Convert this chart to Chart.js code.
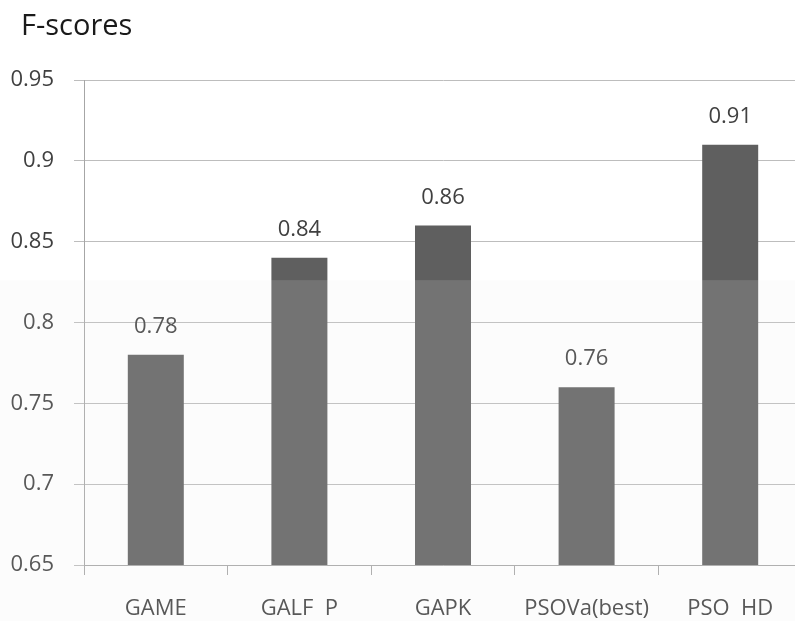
<!DOCTYPE html>
<html>
<head>
<meta charset="utf-8">
<script src="https://cdn.jsdelivr.net/npm/chart.js@4/dist/chart.umd.min.js"></script>
<style>
  html, body { margin: 0; padding: 0; background: #fff; overflow: hidden; }
  #wrap { width: 795px; height: 621px; overflow: hidden; }
</style>
</head>
<body>
<div id="wrap"><canvas id="fChart" width="802" height="621"></canvas></div>
<script>
const categories = ["GAME", "GALF  P", "GAPK", "PSOVa(best)", "PSO  HD"];
const fScores = [0.78, 0.84, 0.86, 0.76, 0.91];
const valueLabels = ["0.78", "0.84", "0.86", "0.76", "0.91"];
const yTickLabels = ["0.65", "0.7", "0.75", "0.8", "0.85", "0.9", "0.95"];
const chartTitle = "F-scores";

const FONT = "'Open Sans', 'Noto Sans', sans-serif";

// title in the top left corner
const titlePlugin = {
    id: "titleText",
    afterDraw(chart) {
        const ctx = chart.ctx;
        ctx.save();
        ctx.font = "29px " + FONT;
        ctx.fillStyle = "#1a1a1a";
        ctx.textBaseline = "middle";
        ctx.textAlign = "left";
        ctx.fillText(chartTitle, 21, 27);
        ctx.restore();
    }
};

// value above each bar
const valuePlugin = {
    id: "values",
    afterDatasetsDraw(chart) {
        const ctx = chart.ctx;
        const meta = chart.getDatasetMeta(0);
        ctx.save();
        ctx.font = "22px " + FONT;
        ctx.fillStyle = "#404040";
        ctx.textAlign = "center";
        ctx.textBaseline = "middle";
        meta.data.forEach((bar, i) => {
            ctx.fillText(valueLabels[i], bar.x, bar.y - 28);
        });
        ctx.restore();
    }
};

// faint watermark layer over the lower part of the picture
const washPlugin = {
    id: "wash",
    afterDraw(chart) {
        const ctx = chart.ctx;
        const top = chart.scales.y.getPixelForValue(0.8262);
        ctx.save();
        ctx.fillStyle = "rgba(234,234,234,0.145)";
        ctx.fillRect(0, top, chart.width, chart.height - top);
        ctx.restore();
    }
};

const ctx = document.getElementById("fChart").getContext("2d");

new Chart(ctx, {
    type: "bar",
    data: {
        labels: categories,
        datasets: [{
            data: fScores,
            backgroundColor: "#5f5f5f",
            borderWidth: 0,
            barPercentage: 0.39,
            categoryPercentage: 1.0
        }]
    },
    options: {
        responsive: false,
        animation: false,
        layout: { padding: { top: 80, left: 0, right: 0, bottom: 0 } },
        plugins: {
            legend: { display: false },
            tooltip: { enabled: false },
            title: { display: false }
        },
        scales: {
            x: {
                grid: {
                    offset: true,
                    drawOnChartArea: false,
                    drawTicks: true,
                    tickLength: 10,
                    color: "#a6a6a6"
                },
                border: { display: true, color: "#a6a6a6" },
                ticks: {
                    color: "#404040",
                    font: { family: FONT, size: 22 },
                    padding: 21,
                    maxRotation: 0
                },
                afterFit(scale) { scale.height = 56; }
            },
            y: {
                min: 0.65,
                max: 0.95,
                grid: {
                    color: "#bdbdbd",
                    lineWidth: 1,
                    drawTicks: true,
                    tickLength: 10
                },
                border: { display: true, color: "#a6a6a6" },
                ticks: {
                    stepSize: 0.05,
                    color: "#404040",
                    font: { family: FONT, size: 22 },
                    padding: 20,
                    callback: (v, i) => yTickLabels[i]
                },
                afterFit(scale) { scale.width = 84; }
            }
        }
    },
    plugins: [titlePlugin, valuePlugin, washPlugin]
});
</script>
</body>
</html>
